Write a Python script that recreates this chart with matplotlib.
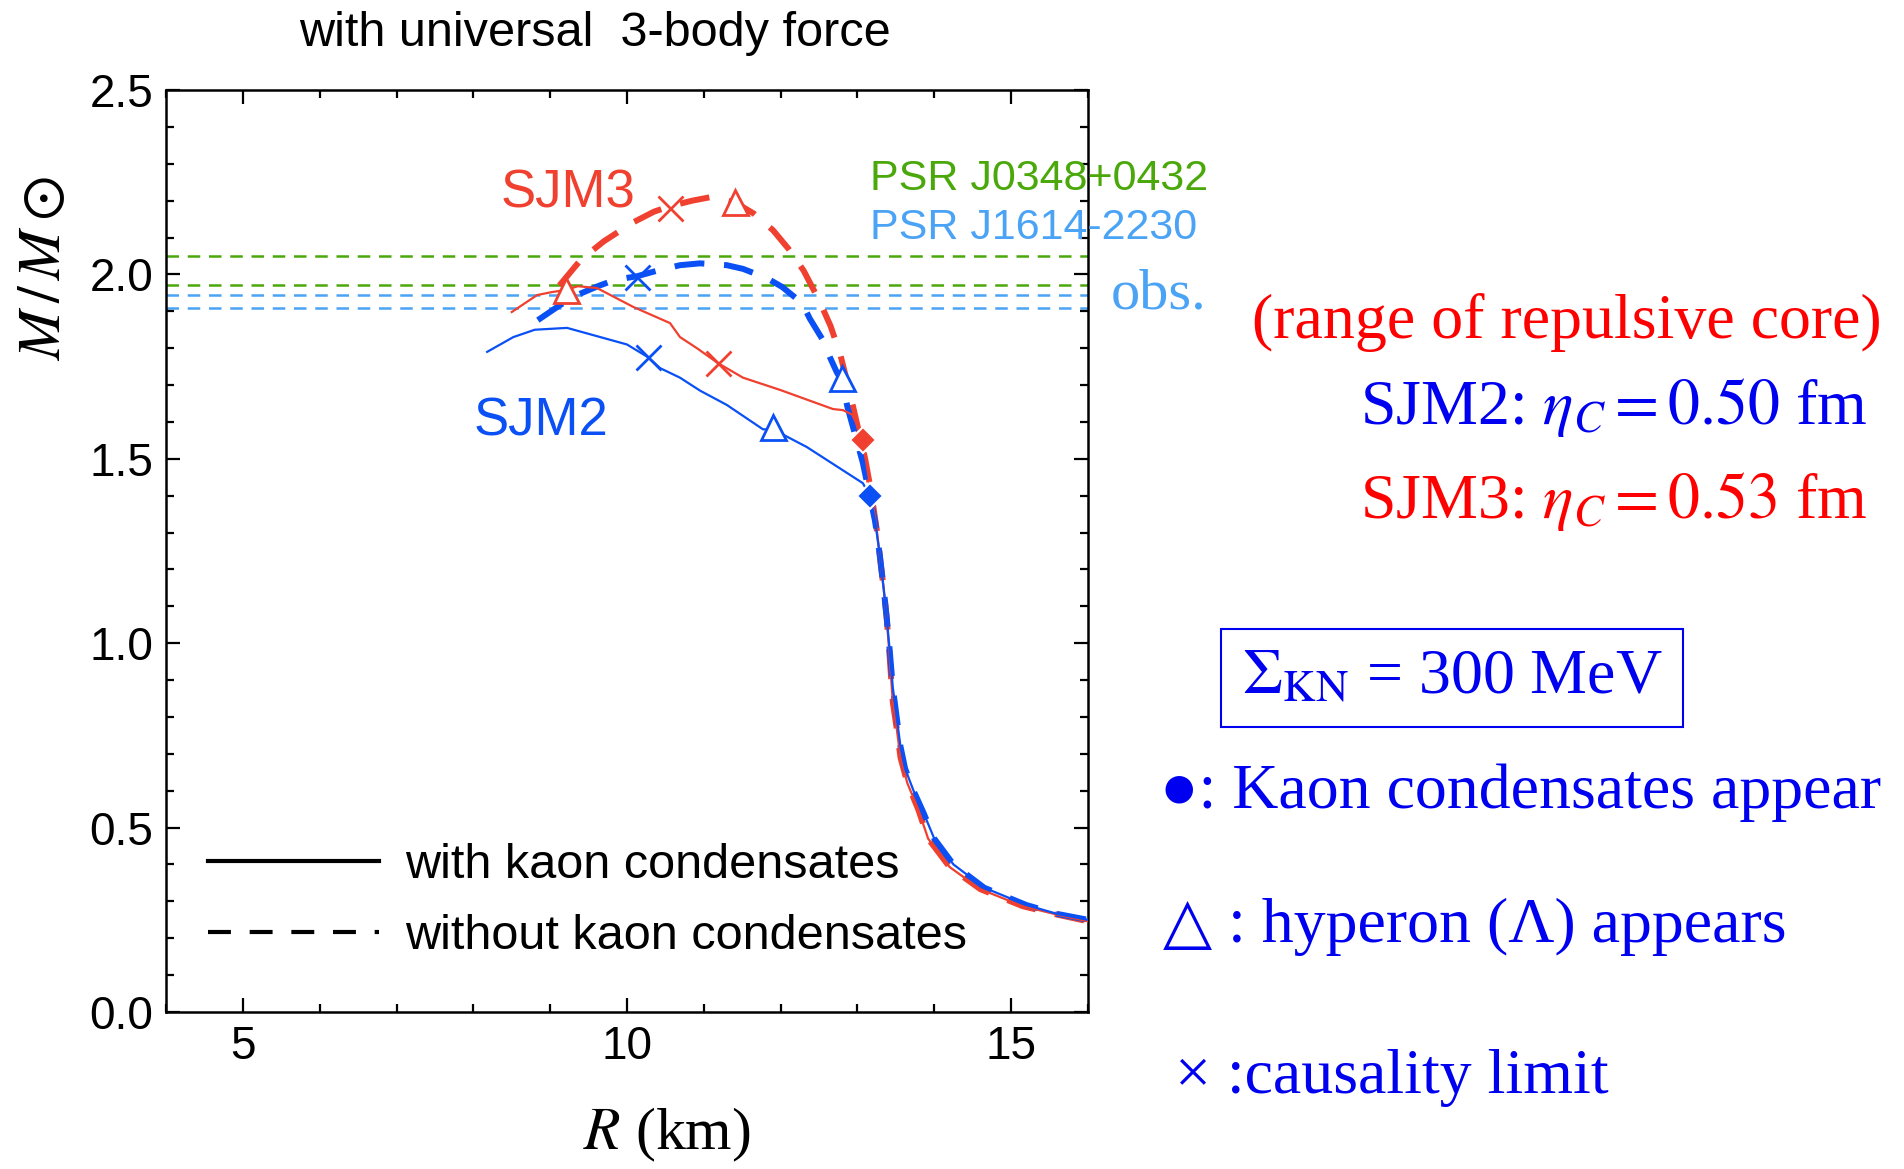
"""
M-R relation, SJM2 / SJM3 with universal 3-body force.
"""
import numpy as np
import matplotlib.pyplot as plt
from matplotlib.lines import Line2D
import matplotlib as mpl
mpl.rcParams['mathtext.fontset'] = 'stix'

#%% data
# common low-mass branch
red_tail_R = [13.17, 13.25, 13.30, 13.34, 13.38, 13.42, 13.46, 13.51, 13.56, 13.65, 13.79, 13.92, 14.2, 14.6, 15.15, 15.6, 16.0]
red_tail_M = [1.42, 1.31, 1.22, 1.15, 1.07, 0.96, 0.84, 0.77, 0.69, 0.62, 0.55, 0.47, 0.393, 0.333, 0.287, 0.264, 0.246]
blue_tail_R = [13.23, 13.29, 13.34, 13.38, 13.42, 13.46, 13.51, 13.56, 13.62, 13.73, 13.86, 14.0, 14.25, 14.65, 15.2, 15.6, 16.0]
blue_tail_M = [1.33, 1.24, 1.15, 1.07, 0.98, 0.88, 0.80, 0.72, 0.66, 0.60, 0.54, 0.47, 0.40, 0.337, 0.29, 0.266, 0.25]

# SJM3 without kaon condensates
sjm3_nok_R = [9.12, 9.40, 9.70, 10.07, 10.35, 10.56, 10.85, 11.1, 11.41, 11.65, 11.9, 12.1, 12.3, 12.5, 12.65, 12.78, 12.90, 13.0, 13.1]
sjm3_nok_M = [1.97, 2.04, 2.09, 2.14, 2.17, 2.185, 2.20, 2.21, 2.195, 2.165, 2.12, 2.07, 2.01, 1.93, 1.86, 1.78, 1.68, 1.59, 1.50]
# SJM3 with kaon condensates
sjm3_k_R = [8.50, 8.83, 9.02, 9.21, 9.36, 9.61, 10.08, 10.56, 10.69, 10.91, 11.18, 11.51, 11.99, 12.68, 12.81, 12.93, 13.0, 13.07, 13.13]
sjm3_k_M = [1.898, 1.944, 1.952, 1.958, 1.968, 1.963, 1.912, 1.868, 1.83, 1.80, 1.76, 1.72, 1.687, 1.635, 1.632, 1.62, 1.59, 1.551, 1.47]
# SJM2 without kaon condensates
sjm2_nok_R = [8.84, 9.13, 9.35, 9.62, 9.84, 10.13, 10.39, 10.69, 10.95, 11.30, 11.51, 11.82, 12.02, 12.28, 12.38, 12.55, 12.64, 12.73, 12.80, 12.87, 12.95, 13.07, 13.16]
sjm2_nok_M = [1.876, 1.917, 1.944, 1.968, 1.985, 1.995, 2.01, 2.025, 2.03, 2.025, 2.015, 1.99, 1.966, 1.922, 1.88, 1.822, 1.776, 1.735, 1.71, 1.64, 1.58, 1.489, 1.40]
# SJM2 with kaon condensates
sjm2_k_R = [8.18, 8.52, 8.80, 9.22, 10.0, 10.27, 10.43, 10.69, 10.95, 11.30, 11.77, 11.90, 12.34, 13.07, 13.16]
sjm2_k_M = [1.79, 1.83, 1.85, 1.855, 1.81, 1.776, 1.746, 1.72, 1.685, 1.646, 1.58, 1.58, 1.532, 1.434, 1.40]

# markers: (R, M)
sjm3_nok_cross = (10.56, 2.18)
sjm3_nok_tri = (11.41, 2.196)
sjm3_k_tri = (9.21, 1.958)
sjm3_k_cross = (11.18, 1.76)
sjm3_k_kaon = (13.07, 1.551)
sjm2_nok_cross = (10.13, 1.993)
sjm2_nok_tri = (12.80, 1.72)
sjm2_k_cross = (10.27, 1.776)
sjm2_k_tri = (11.90, 1.586)
sjm2_k_kaon = (13.16, 1.40)

# observed masses
obs_green = [1.97, 2.05]   # PSR J0348+0432
obs_blue = [1.91, 1.945]   # PSR J1614-2230

RED = '#F0402F'
BLUE = '#0A50F5'
GREEN = '#4AA80A'
LBLUE = '#4AA3F5'
TRED = '#FF0000'
TBLUE = '#0000F0'
sans = 'Liberation Sans'
serif = 'Liberation Serif'

#%%
fig = plt.figure(figsize=(19.04, 11.69), dpi=100)
ax = fig.add_axes([0.0872, 0.1343, 0.4842, 0.7887])

for m in obs_green:
    ax.axhline(m, color=GREEN, lw=1.8, ls=(0, (5, 3.5)), zorder=1)
for m in obs_blue:
    ax.axhline(m, color=LBLUE, lw=1.8, ls=(0, (5, 3.5)), zorder=1)

dash = (0, (5, 3.3))
ax.plot(sjm3_nok_R + red_tail_R, sjm3_nok_M + red_tail_M, color=RED, lw=4.3, ls=dash, zorder=3)
ax.plot(sjm2_nok_R + blue_tail_R, sjm2_nok_M + blue_tail_M, color=BLUE, lw=4.3, ls=dash, zorder=3)
ax.plot(sjm3_k_R + red_tail_R, sjm3_k_M + red_tail_M, color=RED, lw=1.6, zorder=4)
ax.plot(sjm2_k_R + blue_tail_R, sjm2_k_M + blue_tail_M, color=BLUE, lw=1.6, zorder=4)

for (r, m), c in [(sjm3_nok_tri, RED), (sjm3_k_tri, RED), (sjm2_nok_tri, BLUE), (sjm2_k_tri, BLUE)]:
    ax.plot(r, m, marker='^', ms=18, mfc='white', mec=c, mew=2, zorder=5)
for (r, m), c in [(sjm3_nok_cross, RED), (sjm3_k_cross, RED), (sjm2_nok_cross, BLUE), (sjm2_k_cross, BLUE)]:
    ax.plot(r, m, marker='x', ms=18, mec=c, mew=2, zorder=5)
for (r, m), c in [(sjm3_k_kaon, RED), (sjm2_k_kaon, BLUE)]:
    ax.plot(r, m, marker='D', ms=13, mfc=c, mec='white', mew=1.5, zorder=6)

ax.set_xlim(4, 16)
ax.set_ylim(0, 2.5)
ax.set_xticks([5, 10, 15])
ax.set_xticks(np.arange(4, 17, 1), minor=True)
ax.set_yticks([0.0, 0.5, 1.0, 1.5, 2.0, 2.5])
ax.set_yticklabels(['0.0', '0.5', '1.0', '1.5', '2.0', '2.5'])
ax.set_yticks(np.arange(0, 2.51, 0.1), minor=True)
ax.tick_params(which='both', direction='in', top=True, right=True, width=1.6)
ax.tick_params(which='major', length=10, labelsize=33, pad=9)
ax.tick_params(which='minor', length=6)
for lab in ax.get_xticklabels() + ax.get_yticklabels():
    lab.set_family(sans)
for s in ax.spines.values():
    s.set_linewidth(1.8)

# labels inside the axes
ax.text(9.23, 2.22, 'SJM3', color=RED, fontsize=38, family=sans, ha='center', va='center')
ax.text(8.88, 1.60, 'SJM2', color=BLUE, fontsize=38, family=sans, ha='center', va='center')
ax.text(13.16, 2.26, 'PSR J0348+0432', color=GREEN, fontsize=31, family=sans, ha='left', va='center', clip_on=False)
ax.text(13.16, 2.125, 'PSR J1614-2230', color=LBLUE, fontsize=31, family=sans, ha='left', va='center', clip_on=False)
ax.text(16.3, 1.945, 'obs.', color=LBLUE, fontsize=42, family=serif, ha='left', va='center', clip_on=False)

handles = [Line2D([], [], color='k', lw=3),
           Line2D([], [], color='k', lw=3, ls=(0, (5.5, 4.5)))]
leg = ax.legend(handles, ['with kaon condensates', 'without kaon condensates'],
                loc='lower left', bbox_to_anchor=(0.046, 0.057), frameon=False,
                borderaxespad=0, borderpad=0, handlelength=3.5, handletextpad=0.55,
                labelspacing=0.55, prop={'family': sans, 'size': 35})

fig.text(0.3125, 0.971, 'with universal  3-body force', fontsize=35, family=sans, ha='center', va='center')
fig.text(0.023, 0.77, r'$M\,/\,M\odot$', fontsize=43, rotation=90, ha='center', va='center')
fig.text(0.35, 0.029, r'$R$ (km)', fontsize=43, family=serif, ha='center', va='center')

# right-hand notes
fig.text(0.988, 0.724, '(range of repulsive core)', color=TRED, fontsize=46, family=serif, ha='right', va='center')
fig.text(0.981, 0.651, r'SJM2: $\eta_C = 0.50$ fm', color=TBLUE, fontsize=46, family=serif, ha='right', va='center')
fig.text(0.981, 0.571, r'SJM3: $\eta_C = 0.53$ fm', color=TRED, fontsize=46, family=serif, ha='right', va='center')
fig.text(0.7625, 0.420, r'$\Sigma_{\rm KN}$ = 300 MeV', color=TBLUE, fontsize=46, family=serif, ha='center', va='center',
         bbox=dict(boxstyle='square,pad=0.32', fc='white', ec=TBLUE, lw=1.5))
fig.text(0.609, 0.322, '●: Kaon condensates appear', color=TBLUE, fontsize=46, family=[serif, 'DejaVu Sans'], ha='left', va='center')
fig.text(0.611, 0.207, '△ : hyperon (Λ) appears', color=TBLUE, fontsize=46, family=[serif, 'DejaVu Sans'], ha='left', va='center')
fig.text(0.617, 0.078, '× :causality limit', color=TBLUE, fontsize=46, family=[serif, 'DejaVu Sans'], ha='left', va='center')

fig.savefig('out.png', dpi=100)
